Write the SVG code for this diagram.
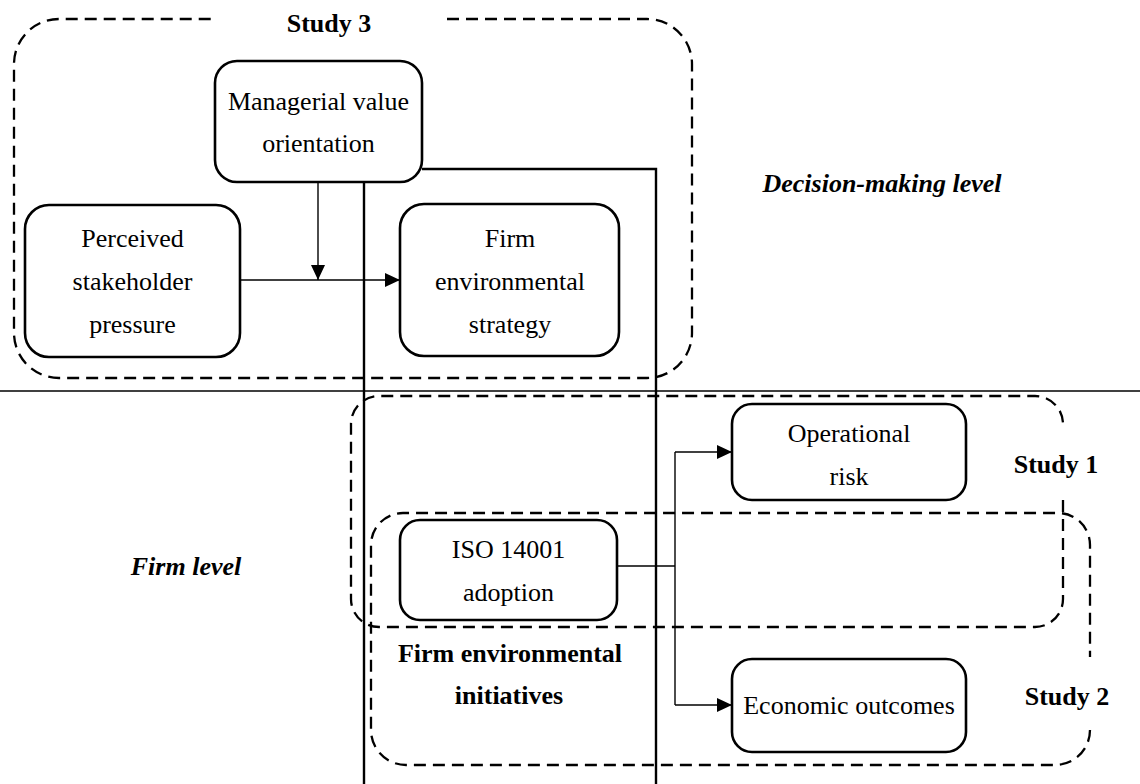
<svg xmlns="http://www.w3.org/2000/svg" width="1140" height="784" viewBox="0 0 1140 784">
<style>
  text { font-family: "Liberation Serif", "Times New Roman", serif; font-size: 26px; fill: #000; text-anchor: middle; }
  .b { font-weight: bold; }
  .bi { font-weight: bold; font-style: italic; }
  .node { fill: #fff; stroke: #000; stroke-width: 2.6; }
  .grp { fill: none; stroke: #000; stroke-width: 2.3; stroke-dasharray: 12 7; }
  .thin { fill: none; stroke: #000; stroke-width: 1.4; }
  .thick { fill: none; stroke: #000; stroke-width: 2.4; }
</style>
<defs>
  <marker id="ah" viewBox="0 0 15 14" refX="15" refY="7" markerWidth="15" markerHeight="14" markerUnits="userSpaceOnUse" orient="auto">
    <path d="M0,0 L15,7 L0,14 Z" fill="#000"/>
  </marker>
</defs>
<rect width="1140" height="784" fill="#fff"/>

<g id="groups">
  <path class="grp" d="M447,19 H647 A45,45 0 0 1 692,64 V333 A45,45 0 0 1 647,378 H59 A45,45 0 0 1 14,333 V64 A45,45 0 0 1 59,19 H213"/>
  <path class="grp" d="M1063,500 V599 A28,28 0 0 1 1035,627 H379 A28,28 0 0 1 351,599 V424 A28,28 0 0 1 379,396 H1035 A28,28 0 0 1 1063,424 V428"/>
  <path class="grp" d="M1090,730 A35,35 0 0 1 1055,765 H406 A35,35 0 0 1 371,730 V545 A32,32 0 0 1 403,513 H1058 A32,32 0 0 1 1090,545 V657"/>
  <text class="b" x="329" y="32">Study 3</text>
  <text class="b" x="1056" y="473">Study 1</text>
  <text class="b" x="1067" y="705">Study 2</text>
  <text class="b" x="510" y="662">Firm environmental</text>
  <text class="b" x="509" y="704">initiatives</text>
</g>

<g id="levels">
  <line class="thin" x1="0" y1="391" x2="1140" y2="391"/>
  <text class="bi" x="882" y="192">Decision-making level</text>
  <text class="bi" x="186" y="575">Firm level</text>
</g>

<g id="connectors">
  <path class="thick" d="M364,182 V784"/>
  <path class="thick" d="M422,169 H656 V784"/>
  <path class="thin" d="M318,182 V280" marker-end="url(#ah)"/>
  <path class="thin" d="M240,280 H400" marker-end="url(#ah)"/>
  <path class="thin" d="M617,566 H675"/>
  <path class="thin" d="M675,452 V705"/>
  <path class="thin" d="M675,452 H732" marker-end="url(#ah)"/>
  <path class="thin" d="M675,705 H732" marker-end="url(#ah)"/>
</g>

<g id="managerial">
  <rect class="node" x="215" y="61" width="207" height="121" rx="22"/>
  <text x="318.5" y="110">Managerial value</text>
  <text x="318.5" y="152">orientation</text>
</g>
<g id="perceived">
  <rect class="node" x="25" y="205" width="215" height="152" rx="24"/>
  <text x="132.5" y="247">Perceived</text>
  <text x="132.5" y="290">stakeholder</text>
  <text x="132.5" y="333">pressure</text>
</g>
<g id="strategy">
  <rect class="node" x="400" y="204" width="219" height="152" rx="24"/>
  <text x="510" y="247">Firm</text>
  <text x="510" y="290">environmental</text>
  <text x="510" y="333">strategy</text>
</g>
<g id="operational">
  <rect class="node" x="732" y="404" width="234" height="96" rx="20"/>
  <text x="849" y="442">Operational</text>
  <text x="849" y="485">risk</text>
</g>
<g id="iso">
  <rect class="node" x="400" y="520" width="217" height="100" rx="20"/>
  <text x="508.5" y="558">ISO 14001</text>
  <text x="508.5" y="601">adoption</text>
</g>
<g id="economic">
  <rect class="node" x="732" y="659" width="234" height="93" rx="20"/>
  <text x="849" y="714">Economic outcomes</text>
</g>
</svg>
